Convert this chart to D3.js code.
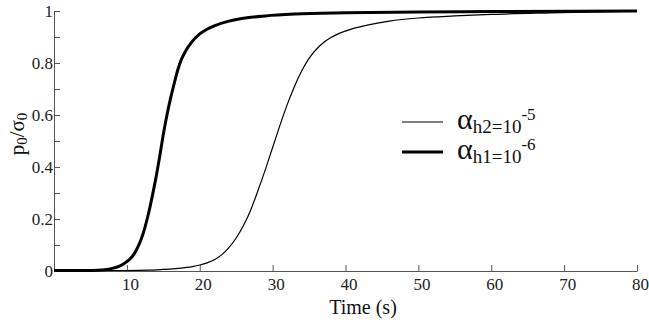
<!DOCTYPE html>
<html>
<head>
<meta charset="utf-8">
<script src="https://cdn.jsdelivr.net/npm/d3@7"></script>
<style>
  body { margin: 0; background: #fff; }
  svg, svg text { font-family: 'Liberation Serif', 'Times New Roman', serif !important; }
</style>
</head>
<body>
<div id="chart"></div>
<script>
// time (s) and p0/sigma0
const timeH1 = [0, 4, 6, 7, 8, 9, 10, 10.5, 11, 11.5, 12, 12.5, 13, 13.5, 14, 14.5, 15, 15.5, 16, 16.5, 17, 17.5, 18, 19, 20, 21, 22, 24, 26, 29, 33, 40, 50, 60, 80];
const valueH1 = [0.002, 0.002, 0.003, 0.005, 0.01, 0.019, 0.036, 0.048, 0.066, 0.092, 0.125, 0.17, 0.225, 0.29, 0.36, 0.44, 0.525, 0.6, 0.665, 0.722, 0.775, 0.815, 0.843, 0.884, 0.912, 0.93, 0.943, 0.961, 0.972, 0.981, 0.988, 0.993, 0.996, 0.998, 1.0];
const timeH2 = [0, 10, 13, 15, 17, 19, 20, 21, 22, 23, 24, 25, 26, 27, 28, 29, 30, 31, 32, 33, 34, 35, 36, 37, 38, 39, 41, 43, 46, 50, 55, 60, 68, 80];
const valueH2 = [0.002, 0.002, 0.003, 0.006, 0.01, 0.017, 0.023, 0.031, 0.043, 0.062, 0.09, 0.127, 0.175, 0.235, 0.31, 0.39, 0.475, 0.56, 0.64, 0.71, 0.77, 0.818, 0.853, 0.879, 0.898, 0.912, 0.932, 0.946, 0.961, 0.973, 0.981, 0.987, 0.993, 1.0];
const xTicks = [10, 20, 30, 40, 50, 60, 70, 80];
const yTicks = [0, 0.1, 0.2, 0.3, 0.4, 0.5, 0.6, 0.7, 0.8, 0.9, 1];
const yLabels = [0, 0.2, 0.4, 0.6, 0.8, 1];

const width = 649, height = 327;
const margin = { top: 11, right: 12, bottom: 56, left: 54 };
const w = width - margin.left - margin.right;
const h = height - margin.top - margin.bottom;

const svg = d3.select('#chart').append('svg')
  .attr('width', width)
  .attr('height', height);
const g = svg.append('g')
  .attr('transform', `translate(${margin.left},${margin.top})`);

const x = d3.scaleLinear().domain([0, 80]).range([0, w]);
const y = d3.scaleLinear().domain([0, 1]).range([h, 0]);

// axes
const xAxis = g.append('g')
  .attr('transform', `translate(0,${h})`)
  .attr('font-family', 'Liberation Serif')
  .call(d3.axisBottom(x).tickValues(xTicks).tickSize(-6).tickSizeOuter(0).tickPadding(7));
xAxis.attr('font-family', 'Liberation Serif');
xAxis.select('.domain').attr('stroke', '#555');
xAxis.selectAll('.tick line').attr('stroke', '#555');
xAxis.selectAll('text').attr('font-size', '17px').attr('fill', '#222').attr('dx', 3);

const yAxis = g.append('g')
  .call(d3.axisLeft(y).tickValues(yTicks).tickSize(-6).tickSizeOuter(0).tickPadding(1)
    .tickFormat(d => yLabels.some(v => Math.abs(v - d) < 1e-9) ? d3.format('~g')(d) : ''));
yAxis.attr('font-family', 'Liberation Serif');
yAxis.select('.domain').attr('stroke', '#555');
yAxis.selectAll('.tick line').attr('stroke', '#555');
yAxis.selectAll('text').attr('font-size', '17px').attr('fill', '#222');

// curves
const line = d3.line()
  .x(d => x(d[0]))
  .y(d => y(d[1]))
  .curve(d3.curveMonotoneX);

g.append('path')
  .datum(timeH2.map((t, i) => [t, valueH2[i]]))
  .attr('fill', 'none')
  .attr('stroke', '#000')
  .attr('stroke-width', 1.2)
  .attr('d', line);

g.append('path')
  .datum(timeH1.map((t, i) => [t, valueH1[i]]))
  .attr('fill', 'none')
  .attr('stroke', '#000')
  .attr('stroke-width', 3)
  .attr('d', line);

// axis titles
svg.append('text')
  .attr('x', 363)
  .attr('y', 314)
  .attr('text-anchor', 'middle')
  .attr('font-size', '20px')
  .attr('fill', '#111')
  .text('Time (s)');

const yTitle = svg.append('text')
  .attr('transform', 'translate(24,134) rotate(-90)')
  .attr('text-anchor', 'middle')
  .attr('font-size', '21px')
  .attr('fill', '#111');
yTitle.append('tspan').text('p');
yTitle.append('tspan').attr('font-size', '15px').attr('dy', 3).text('0');
yTitle.append('tspan').attr('dy', -3).text('/σ');
yTitle.append('tspan').attr('font-size', '15px').attr('dy', 3).text('0');

// legend
const legend = [
  { sub: 'h2=10', sup: '-5', width: 1.2, y: 122 },
  { sub: 'h1=10', sup: '-6', width: 3, y: 152 }
];
legend.forEach(item => {
  svg.append('line')
    .attr('x1', 402).attr('x2', 443)
    .attr('y1', item.y).attr('y2', item.y)
    .attr('stroke', '#000')
    .attr('stroke-width', item.width);
  const t = svg.append('text')
    .attr('x', 457)
    .attr('y', item.y + 7)
    .attr('font-size', '30px')
    .attr('fill', '#111');
  t.append('tspan').text('α');
  t.append('tspan').attr('font-size', '19px').attr('dy', 4).text(item.sub);
  t.append('tspan').attr('font-size', '17px').attr('dy', -13).text(item.sup);
});
</script>
</body>
</html>
